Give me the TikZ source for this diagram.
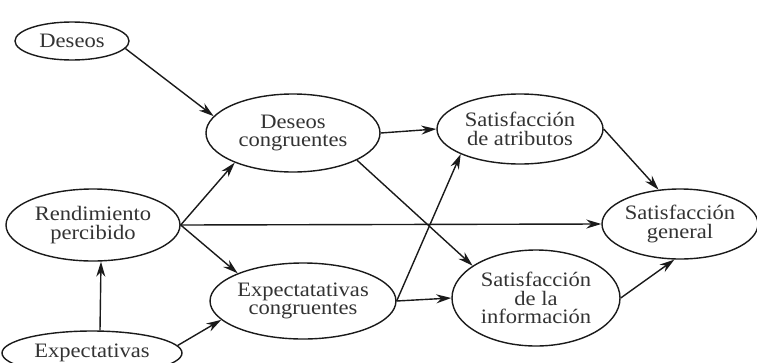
\documentclass[tikz,border=0pt]{standalone}
\usepackage{fontspec}
\setmainfont{Liberation Serif}[FakeStretch=1.1]
\usetikzlibrary{shapes.geometric,arrows.meta}
\definecolor{linec}{HTML}{1A1A1A}
\definecolor{textc}{HTML}{333333}
\begin{document}
\begin{tikzpicture}[x=1pt,y=-1pt,
  el/.style={ellipse,draw=linec,line width=1.4pt,inner sep=0pt,align=center,text=textc,font=\fontsize{20.5}{18.5}\selectfont},
  arr/.style={-{Stealth[length=15pt,width=9pt]},draw=linec,line width=1.4pt}]
\useasboundingbox[fill=white] (0,0) rectangle (757,362);
\clip (0,0) rectangle (757,362);
\node[el,minimum width=114pt,minimum height=38pt] (des) at (72,41) {Deseos};
\node[el,minimum width=174pt,minimum height=78pt] (dc) at (293,133) {Deseos\\congruentes};
\node[el,minimum width=174pt,minimum height=72pt] (rend) at (93,225) {Rendimiento\\percibido};
\node[el,minimum width=164pt,minimum height=76pt] (ec) at (303,301) {Expectatativas\\congruentes};
\node[el,minimum width=180pt,minimum height=44pt] (exp) at (92,353) {Expectativas};
\node[el,minimum width=166pt,minimum height=70pt] (sa) at (520,129) {Satisfacción\\de atributos};
\node[el,minimum width=156pt,minimum height=70pt] (sg) at (680,224) {Satisfacción\\general};
\node[el,minimum width=168pt,minimum height=96pt] (si) at (536,298) {Satisfacción\\de la\\información};
\draw[arr] (des.-8) -- (dc.168);
\draw[arr] (rend.east) -- (dc.207);
\draw[arr] (rend.east) -- (ec.157);
\draw[arr] (rend.east) -- (sg.west);
\draw[arr] ([xshift=8pt]exp.north) -- ([xshift=8pt]rend.south);
\draw[arr] (exp.5) -- (ec.193);
\draw[arr] (dc.east) -- (sa.west);
\draw[arr] (dc.-23) -- (si.153);
\draw[arr] (ec.east) -- (sa.203);
\draw[arr] (ec.east) -- (si.west);
\draw[arr] (sa.east) -- (sg.122);
\draw[arr] (si.east) -- (sg.261);
\end{tikzpicture}
\end{document}
